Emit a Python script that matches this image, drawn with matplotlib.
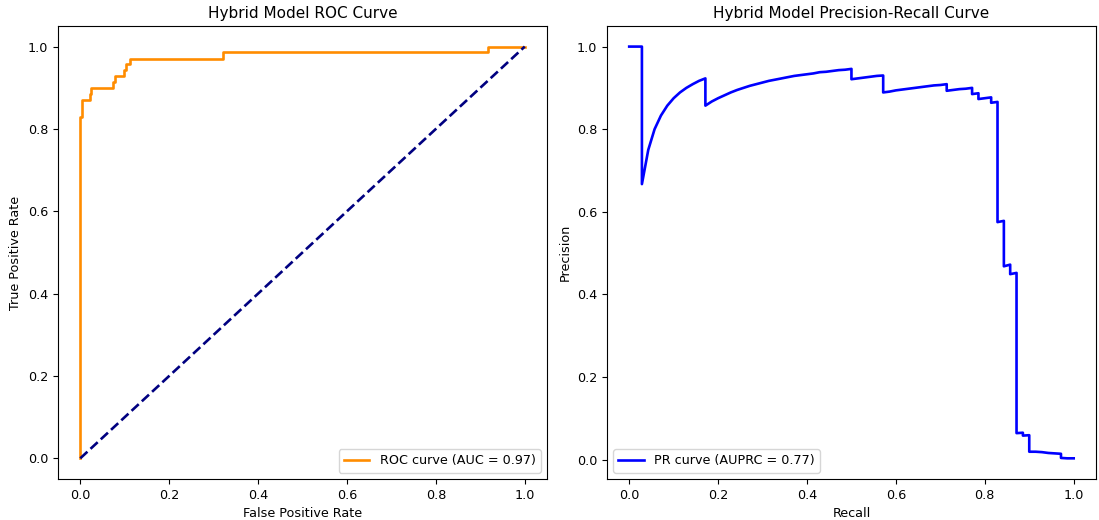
import numpy as np
import matplotlib
matplotlib.use("Agg")
import matplotlib.pyplot as plt

plt.rcParams['font.size'] = 9.2
plt.rcParams['axes.titlesize'] = 11
plt.rcParams['lines.linewidth'] = 1.9

# ROC curve points
fpr = [0.0, 0.0, 0.003, 0.003, 0.022, 0.022, 0.025, 0.025, 0.074, 0.074,
       0.079, 0.079, 0.099, 0.099, 0.104, 0.104, 0.113, 0.113, 0.322, 0.322,
       0.917, 0.917, 1.0]
tpr = [0.0, 0.829, 0.829, 0.871, 0.871, 0.886, 0.886, 0.900, 0.900, 0.914,
       0.914, 0.929, 0.929, 0.943, 0.943, 0.957, 0.957, 0.971, 0.971, 0.986,
       0.986, 1.0, 1.0]
roc_auc = 0.97

# precision-recall points
recall = [0.0, 0.0143, 0.0286, 0.0286, 0.0429, 0.0571, 0.0714, 0.0857, 0.1,
          0.1143, 0.1286, 0.1429, 0.1571, 0.1714, 0.1714, 0.1857, 0.2, 0.2143,
          0.2286, 0.2429, 0.2571, 0.2714, 0.2857, 0.3, 0.3143, 0.3286, 0.3429,
          0.3571, 0.3714, 0.3857, 0.4, 0.4143, 0.4286, 0.4429, 0.4571, 0.4714,
          0.4857, 0.5, 0.5, 0.5143, 0.5286, 0.5429, 0.5571, 0.5714, 0.5714,
          0.5857, 0.6, 0.6143, 0.6286, 0.6429, 0.6571, 0.6714, 0.6857, 0.7,
          0.7143, 0.7143, 0.7286, 0.7429, 0.7571, 0.7714, 0.7714, 0.7857,
          0.7857, 0.8, 0.8143, 0.8143, 0.8286, 0.8286, 0.8429, 0.8429, 0.8571,
          0.8571, 0.8714, 0.8714, 0.8857, 0.8857, 0.9, 0.9, 0.9143, 0.9286,
          0.9429, 0.9571, 0.9714, 0.9714, 0.9857, 1.0]
precision = [1.0, 1.0, 1.0, 0.667, 0.750, 0.800, 0.833, 0.857, 0.875, 0.889,
             0.900, 0.909, 0.917, 0.923, 0.857, 0.867, 0.875, 0.882, 0.889,
             0.895, 0.900, 0.905, 0.909, 0.913, 0.917, 0.920, 0.923, 0.926,
             0.929, 0.931, 0.933, 0.935, 0.938, 0.939, 0.941, 0.943, 0.944,
             0.946, 0.921, 0.923, 0.925, 0.927, 0.929, 0.930, 0.889, 0.891,
             0.894, 0.896, 0.898, 0.900, 0.902, 0.904, 0.906, 0.907, 0.909,
             0.893, 0.895, 0.897, 0.898, 0.900, 0.885, 0.887, 0.873, 0.875,
             0.877, 0.864, 0.866, 0.575, 0.578, 0.468, 0.472, 0.449, 0.452,
             0.064, 0.065, 0.058, 0.059, 0.019, 0.019, 0.018, 0.016, 0.015,
             0.014, 0.004, 0.003, 0.003]
auprc = 0.77

fig = plt.figure(figsize=(10.99, 5.2), dpi=100)
ax1 = fig.add_axes([0.0528, 0.079, 0.4449, 0.871])
ax2 = fig.add_axes([0.5523, 0.079, 0.4449, 0.871])

ax1.plot(fpr, tpr, color='darkorange', label='ROC curve (AUC = %0.2f)' % roc_auc)
ax1.plot([0, 1], [0, 1], color='navy', linestyle='--')
ax1.set_xlabel('False Positive Rate')
ax1.set_ylabel('True Positive Rate')
ax1.set_title('Hybrid Model ROC Curve')
ax1.legend(loc='lower right')

ax2.plot(recall, precision, color='blue', label='PR curve (AUPRC = %0.2f)' % auprc)
ax2.set_xlabel('Recall')
ax2.set_ylabel('Precision')
ax2.set_title('Hybrid Model Precision-Recall Curve')
ax2.legend(loc='lower left')

fig.savefig('out.png', dpi=100)
